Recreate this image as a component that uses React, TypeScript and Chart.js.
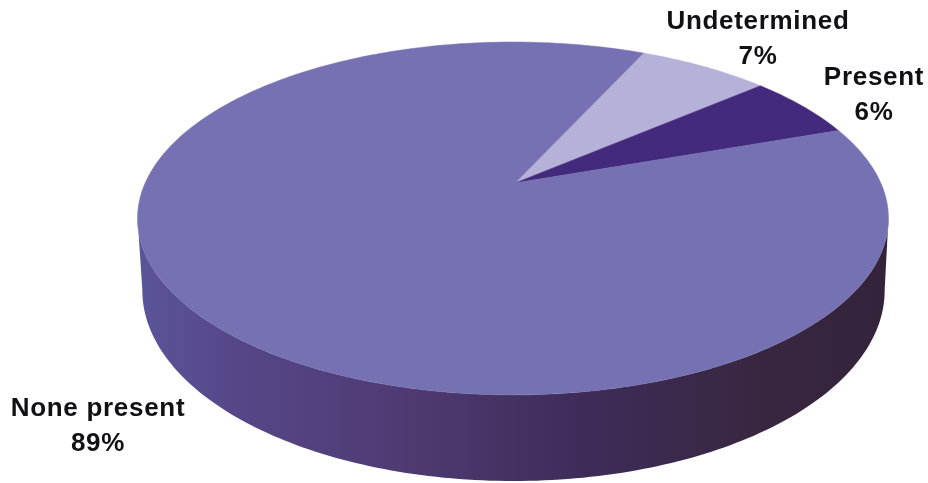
import React, { useEffect, useRef } from "react";
import { Chart, registerables } from "chart.js";

Chart.register(...registerables);

const categories = ["Undetermined", "Present", "None present"];
const percentages = [7, 6, 89];
const sliceColors = ["#B6B1D9", "#442A7C", "#7571B2"];

const WIDTH = 928;
const HEIGHT = 483;
const START_ROTATION = 24.8;
const LABEL_FONT = "bold 26px 'Liberation Sans', Arial, sans-serif";
const LINE_GAP = 35;

const TOP = { cx: 513, cy: 183, a: 367.8, b: 169.3, k: -0.201 };
const BOTTOM = { cx: 513.5, cy: 252, a: 363.6, b: 183, k: -0.201 };

// label anchors in pixel space, keyed by category
const labelAnchors: Record<string, [number, number]> = {
  Undetermined: [758, 22],
  Present: [874, 78],
  "None present": [98, 409],
};

type Rim = typeof TOP;
const project = (r: Rim, angle: number): [number, number] => {
  const u = Math.cos(angle);
  const v = Math.sin(angle);
  const d = 1 + r.k * v;
  return [r.cx + (r.a * u) / d, r.cy + (r.b * v) / d];
};

const perspectivePie = {
  id: "perspectivePie",
  beforeDatasetsDraw(chart: any) {
    const ctx: CanvasRenderingContext2D = chart.ctx;
    const arcs = chart.getDatasetMeta(0).data;
    ctx.save();

    // side wall: from the right extreme of the disc, round the front, to the left extreme
    const wallStart = 0.2;
    const wallEnd = Math.PI - 0.2;
    const steps = 160;
    const grad = ctx.createLinearGradient(140, 0, 886, 0);
    grad.addColorStop(0, "#5A5599");
    grad.addColorStop(0.12, "#574789");
    grad.addColorStop(0.35, "#4F3B73");
    grad.addColorStop(0.6, "#3D2C58");
    grad.addColorStop(0.85, "#38263F");
    grad.addColorStop(1, "#33233B");
    ctx.beginPath();
    for (let i = 0; i <= steps; i++) {
      const t = wallStart + ((wallEnd - wallStart) * i) / steps;
      const [x, y] = project(BOTTOM, t);
      if (i === 0) ctx.moveTo(x, y);
      else ctx.lineTo(x, y);
    }
    for (let i = 0; i <= steps; i++) {
      const t = wallEnd - ((wallEnd - wallStart) * i) / steps;
      const [x, y] = project(TOP, t);
      ctx.lineTo(x, y);
    }
    ctx.closePath();
    ctx.fillStyle = grad;
    ctx.fill();

    // top face: every wedge takes its angles from the library's arc elements
    arcs.forEach((arc: any) => {
      const { startAngle, endAngle } = arc.getProps(["startAngle", "endAngle"], true);
      const n = Math.max(2, Math.ceil(((endAngle - startAngle) / (2 * Math.PI)) * 360));
      ctx.beginPath();
      ctx.moveTo(TOP.cx + 2, TOP.cy);
      for (let i = 0; i <= n; i++) {
        const [x, y] = project(TOP, startAngle + ((endAngle - startAngle) * i) / n);
        ctx.lineTo(x, y);
      }
      ctx.closePath();
      ctx.fillStyle = arc.options.backgroundColor;
      ctx.strokeStyle = arc.options.backgroundColor;
      ctx.lineWidth = 0.5;
      ctx.fill();
      ctx.stroke();
    });

    // labels
    ctx.fillStyle = "#111114";
    ctx.font = LABEL_FONT;
    (ctx as any).letterSpacing = "0.7px";
    ctx.textAlign = "center";
    ctx.textBaseline = "middle";
    categories.forEach((name, i) => {
      const [x, y] = labelAnchors[name];
      ctx.fillText(name, x, y);
      ctx.fillText(`${percentages[i]}%`, x, y + LINE_GAP);
    });

    ctx.restore();
    return false;
  },
};

export default function App() {
  const ref = useRef<HTMLCanvasElement>(null);
  useEffect(() => {
    const chart = new Chart(ref.current as HTMLCanvasElement, {
      type: "pie",
      data: {
        labels: categories,
        datasets: [{ data: percentages, backgroundColor: sliceColors, borderWidth: 0 }],
      },
      options: {
        animation: false,
        responsive: false,
        rotation: START_ROTATION,
        plugins: { legend: { display: false }, tooltip: { enabled: false } },
      },
      plugins: [perspectivePie],
    } as any);
    return () => chart.destroy();
  }, []);
  return (
    <div style={{ position: "absolute", left: 0, top: 0, width: WIDTH, height: HEIGHT, background: "#fff" }}>
      <canvas ref={ref} width={WIDTH} height={HEIGHT} style={{ display: "block" }} />
    </div>
  );
}
